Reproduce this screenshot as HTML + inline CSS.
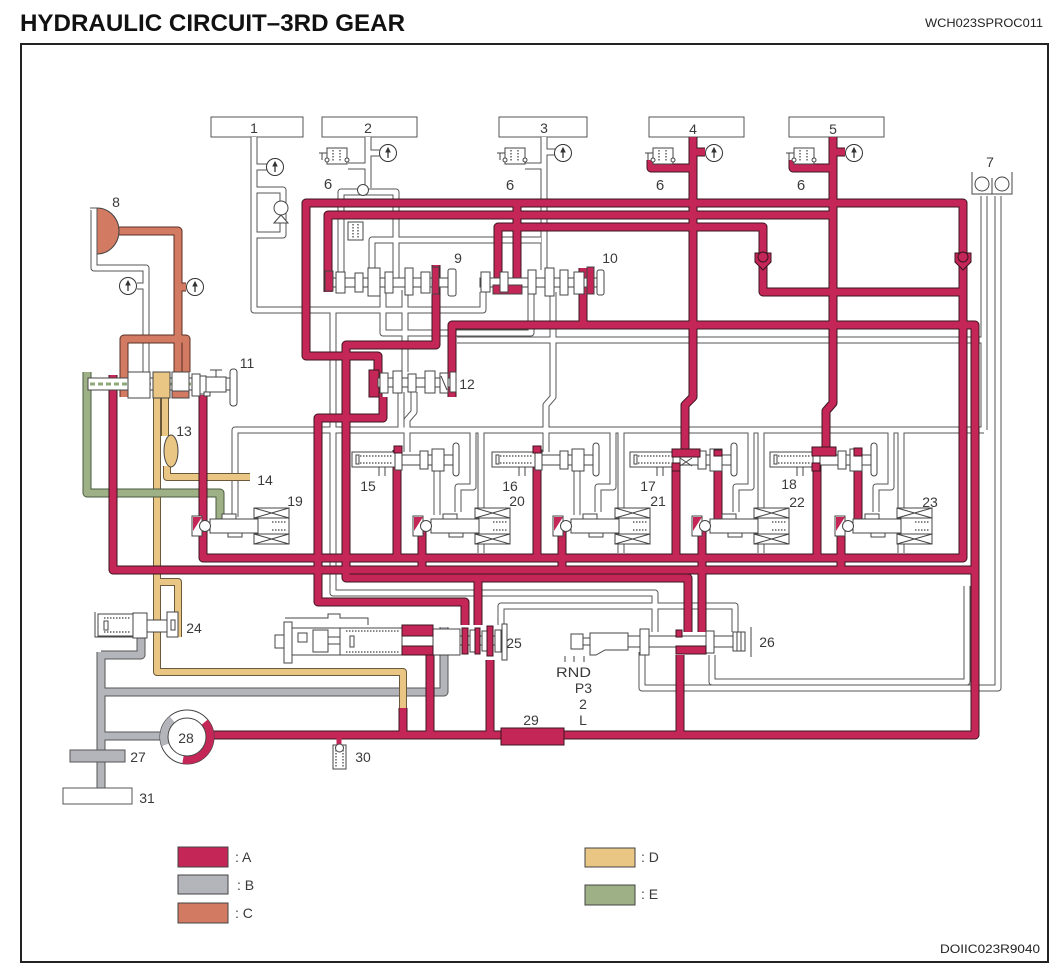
<!DOCTYPE html>
<html><head><meta charset="utf-8">
<style>
html,body{margin:0;padding:0;background:#fff;}
svg{display:block;}
text{font-family:"Liberation Sans",Arial,sans-serif;fill:#3a3a3a;}
</style></head><body>
<svg width="1064" height="978" viewBox="0 0 1064 978" xmlns="http://www.w3.org/2000/svg">
<defs>
<g id="wp" fill="none">
<path d="M254,137 V310 H483 V292"/>
<path d="M333,310 V593 H655 V632"/>
<path d="M254,167 H267"/>
<path d="M256,190 H283 V235 H256"/>
<path d="M368,137 V188"/>
<path d="M341,278 V192 H396 V278"/>
<path d="M348,166 H368"/>
<path d="M368,153 H380"/>
<path d="M544,137 V270"/>
<path d="M525,166 H544"/>
<path d="M544,152 H555"/>
<path d="M372,278 V240 H541"/>
<path d="M383,292 V333 H531 V292"/>
<path d="M984,196 V430"/>
<path d="M984,340 H457"/>
<path d="M998,196 V688 H642 V652"/>
<path d="M967,586 V682 H712 V655"/>
<path d="M553,292 V397 L546,405 V452"/>
<path d="M501,625 V606 H735 V632"/>
<path d="M235,517 V430 H984"/>
<path d="M405,290 V372"/>
<path d="M401,392 V430"/>
<path d="M414,392 V412 L407,420 V452"/>
<path d="M94,210 V268 H146 V372"/>
<path d="M137,286 H146"/>
<path d="M437,467 V515"/>
<path d="M577,467 V515"/>
<path d="M473,432 V487 H458 V512"/>
<path d="M613,432 V487 H598 V512"/>
<path d="M751,432 V487 H736 V512"/>
<path d="M891,432 V487 H876 V512"/>
<path d="M481,432 V553"/>
<path d="M621,432 V553"/>
<path d="M761,432 V553"/>
<path d="M901,432 V553"/>
</g>
<g id="rp" fill="none">
<path d="M378,397 V356 H306 V203 H963 V558 H203 V395"/>
<path d="M328,292 V215 H833"/>
<path d="M833,137 V403 L826,411 V455"/>
<path d="M833,168 H793 V160"/>
<path d="M833,152 H845"/>
<path d="M693,137 V397 L685,405 V455"/>
<path d="M693,168 H651 V160"/>
<path d="M693,152 H705"/>
<path d="M498,292 V227 H763 V292 H963"/>
<path d="M517,203 V292"/>
<path d="M452,397 V325 H975 V735 H213"/>
<path d="M583,268 V325"/>
<path d="M113,375 V570 H975"/>
<path d="M436,265 V345 H346 V578 H688 V632"/>
<path d="M478,578 V625"/>
<path d="M383,397 V418 H318 V602 H465 V625"/>
<path d="M397,450 V558"/>
<path d="M537,450 V558"/>
<path d="M676,455 V558"/>
<path d="M817,455 V558"/>
<path d="M422,522 V570"/>
<path d="M562,522 V570"/>
<path d="M702,522 V632"/>
<path d="M841,522 V570"/>
<path d="M718,452 V523"/>
<path d="M858,452 V523"/>
<path d="M680,655 V735"/>
<path d="M490,660 V735"/>
<path d="M430,650 V735"/>
<path d="M403,708 V735"/>
</g>
<g id="gp" fill="none">
<path d="M101,652 V790"/>
<path d="M101,736 H162"/>
<path d="M101,692 H444 V627"/>
<path d="M101,655 H141 V637"/>
</g>
<g id="yp" fill="none">
<path d="M157,398 V672 H403 V708"/>
<path d="M157,582 H178 V637"/>
<path d="M165,398 V436"/>
<path d="M167,466 V477 H250"/>
</g>
<g id="ep" fill="none"><path d="M87,372 V493 H220 V521"/></g>
<g id="cp" fill="none">
<path d="M97,231 H178 V372"/>
<path d="M124,397 V339 H186 V372"/>
<path d="M178,287 H186"/>
</g>
<g id="sol" stroke="#444" stroke-width="1" fill="#fff">
<rect x="0" y="516" width="10" height="20"/>
<path d="M1,517 H10 L1,531 Z" fill="#c42658" stroke="none"/>
<rect x="18" y="519" width="48" height="14"/>
<rect x="30" y="514" width="14" height="5"/>
<rect x="36" y="533" width="14" height="4"/>
<rect x="62" y="508" width="35" height="10"/>
<path d="M62,508 L97,518 M97,508 L62,518" fill="none"/>
<rect x="62" y="534" width="35" height="10"/>
<path d="M62,534 L97,544 M97,534 L62,544" fill="none"/>
<rect x="66" y="518" width="31" height="16"/>
<line x1="80" y1="522" x2="95" y2="522" stroke="#888" stroke-dasharray="1.5 1.5" stroke-width="2"/>
<line x1="80" y1="530" x2="95" y2="530" stroke="#888" stroke-dasharray="1.5 1.5" stroke-width="2"/>
<circle cx="13" cy="526" r="5.5"/>
</g>
<g id="sv" stroke="#444" stroke-width="1" fill="#fff">
<rect x="0" y="452" width="43" height="15"/>
<line x1="8" y1="456" x2="40" y2="456" stroke="#888" stroke-dasharray="1.5 1.5" stroke-width="2"/>
<line x1="8" y1="463" x2="40" y2="463" stroke="#888" stroke-dasharray="1.5 1.5" stroke-width="2"/>
<rect x="4" y="455" width="3" height="9"/>
<path d="M27,467 V476 M33,467 V476" fill="none"/>
<rect x="43" y="455" width="60" height="10"/>
<rect x="43" y="450" width="7" height="20"/>
<rect x="68" y="451" width="8" height="18"/>
<rect x="80" y="449" width="12" height="22"/>
<rect x="101" y="443" width="6" height="33" rx="3"/>
</g>
<g id="v6" stroke="#444" stroke-width="1" fill="#fff">
<rect x="8" y="148" width="20" height="16"/>
<line x1="14" y1="150" x2="14" y2="162" stroke="#888" stroke-dasharray="1.5 1.5" stroke-width="2"/>
<line x1="21" y1="150" x2="21" y2="162" stroke="#888" stroke-dasharray="1.5 1.5" stroke-width="2"/>
<path d="M0,153 H8 M3,153 V160" fill="none"/>
<circle cx="8" cy="160" r="2"/>
<circle cx="28" cy="160" r="2"/>
</g>
<g id="gauge" stroke="#333" stroke-width="1">
<circle cx="0" cy="0" r="8.5" fill="#fff"/>
<path d="M0,5 V-2" fill="none" stroke-width="1.3"/>
<path d="M-2,-1 L0,-5 L2,-1 Z" fill="#333"/>
</g>
</defs>

<rect width="1064" height="978" fill="#fff"/>
<text x="20" y="31" font-size="24" font-weight="bold" fill="#111" style="fill:#111" textLength="385" lengthAdjust="spacingAndGlyphs">HYDRAULIC CIRCUIT–3RD GEAR</text>
<text x="925" y="27" font-size="12" style="fill:#222" textLength="118" lengthAdjust="spacingAndGlyphs">WCH023SPROC011</text>
<rect x="21" y="44" width="1027" height="918" fill="none" stroke="#222" stroke-width="2"/>
<text x="940" y="953" font-size="12" style="fill:#222" textLength="100" lengthAdjust="spacingAndGlyphs">DOIIC023R9040</text>

<!-- top boxes -->
<g fill="#fff" stroke="#555" stroke-width="1">
<rect x="211" y="117" width="92" height="20"/>
<rect x="322" y="117" width="95" height="20"/>
<rect x="499" y="117" width="88" height="20"/>
<rect x="649" y="117" width="95" height="20"/>
<rect x="789" y="117" width="95" height="20"/>
</g>

<!-- pipes -->
<use href="#wp" stroke="#555" stroke-width="7" stroke-linejoin="round"/>
<use href="#wp" stroke="#fff" stroke-width="5" stroke-linejoin="round"/>
<use href="#gp" stroke="#555" stroke-width="9" stroke-linejoin="round"/>
<use href="#gp" stroke="#b4b5bb" stroke-width="7" stroke-linejoin="round"/>
<use href="#yp" stroke="#6a5a3a" stroke-width="8" stroke-linejoin="round"/>
<use href="#yp" stroke="#e9c684" stroke-width="6" stroke-linejoin="round"/>
<use href="#ep" stroke="#4a5a40" stroke-width="9" stroke-linejoin="round"/>
<use href="#ep" stroke="#9eb086" stroke-width="7" stroke-linejoin="round"/>
<use href="#cp" stroke="#5a3025" stroke-width="9" stroke-linejoin="round"/>
<use href="#cp" stroke="#d37a63" stroke-width="7" stroke-linejoin="round"/>
<use href="#rp" stroke="#3b1520" stroke-width="9" stroke-linejoin="round"/>
<use href="#rp" stroke="#c42658" stroke-width="7" stroke-linejoin="round"/>

<!-- accumulator 8 -->
<path d="M97,208 A22,23 0 0 1 97,254 Z" fill="#d37a63" stroke="#444" stroke-width="1"/>
<path d="M90,208 H97 V254" fill="none" stroke="#555" stroke-width="1"/>

<!-- 13 -->
<ellipse cx="171" cy="451" rx="7" ry="16" fill="#e9c684" stroke="#444" stroke-width="1"/>

<!-- gauges -->
<use href="#gauge" x="275" y="167"/>
<use href="#gauge" x="388" y="153"/>
<use href="#gauge" x="563" y="153"/>
<use href="#gauge" x="714" y="153"/>
<use href="#gauge" x="854" y="153"/>
<use href="#gauge" x="128" y="286"/>
<use href="#gauge" x="195" y="287"/>

<!-- valve 6s -->
<use href="#v6" x="319"/>
<use href="#v6" x="497"/>
<use href="#v6" x="645"/>
<use href="#v6" x="786"/>

<!-- check valves -->
<g stroke="#444" stroke-width="1" fill="#fff">
<circle cx="281" cy="208" r="7"/>
<path d="M274,223 L281,215 L288,223 Z"/>
<circle cx="363" cy="190" r="5.5"/>
</g>
<g stroke="#3b1520" stroke-width="1" fill="#c42658">
<path d="M755,253 H771 V262 L763,270 L755,262 Z"/>
<circle cx="763" cy="257" r="5"/>
<path d="M955,253 H971 V262 L963,270 L955,262 Z"/>
<circle cx="963" cy="257" r="5"/>
</g>

<!-- 7 -->
<g stroke="#444" stroke-width="1" fill="#fff">
<path d="M972,172 V194 H1012 V172" fill="none"/>
<circle cx="982" cy="184" r="7"/>
<circle cx="1002" cy="184" r="7"/>
<path d="M992,178 V194" fill="none"/>
</g>

<!-- valve 9 -->
<g stroke="#444" stroke-width="1" fill="#fff">
<rect x="348" y="222" width="15" height="18"/>
<line x1="353" y1="224" x2="353" y2="238" stroke="#888" stroke-dasharray="1.5 1.5" stroke-width="2"/>
<line x1="358" y1="224" x2="358" y2="238" stroke="#888" stroke-dasharray="1.5 1.5" stroke-width="2"/>
<rect x="325" y="278" width="130" height="9"/>
<rect x="325" y="271" width="8" height="20" fill="#c42658"/>
<rect x="336" y="272" width="9" height="21"/>
<rect x="355" y="273" width="8" height="19"/>
<rect x="368" y="268" width="12" height="28"/>
<rect x="385" y="272" width="8" height="21"/>
<rect x="405" y="268" width="8" height="27"/>
<rect x="421" y="272" width="9" height="21"/>
<rect x="432" y="267" width="7" height="27" fill="#c42658"/>
<rect x="448" y="269" width="8" height="27" rx="2"/>
</g>
<!-- valve 10 -->
<g stroke="#444" stroke-width="1" fill="#fff">
<rect x="480" y="278" width="123" height="9"/>
<rect x="481" y="272" width="9" height="20"/>
<rect x="493" y="285" width="29" height="9" fill="#c42658"/>
<rect x="500" y="272" width="8" height="20"/>
<rect x="528" y="270" width="8" height="24"/>
<rect x="545" y="268" width="9" height="28"/>
<rect x="560" y="270" width="8" height="25"/>
<rect x="574" y="272" width="10" height="22"/>
<rect x="587" y="267" width="7" height="27" fill="#c42658"/>
<rect x="597" y="270" width="7" height="25" rx="2"/>
</g>
<!-- valve 11 -->
<g stroke="#444" stroke-width="1" fill="#fff">
<rect x="88" y="378" width="145" height="12"/>
<line x1="90" y1="384" x2="226" y2="384" stroke="#8fa878" stroke-width="3" stroke-dasharray="5 3"/>
<rect x="128" y="372" width="22" height="26"/>
<rect x="153" y="372" width="17" height="26" fill="#e9c684"/>
<rect x="172" y="372" width="17" height="26"/>
<rect x="172" y="391" width="17" height="7" fill="#d37a63"/>
<rect x="192" y="374" width="8" height="22"/>
<rect x="200" y="376" width="6" height="18"/>
<rect x="206" y="377" width="20" height="15"/>
<path d="M210,370 H222 M216,370 V377" fill="none"/>
<rect x="230" y="369" width="7" height="37" rx="3"/>
<rect x="204" y="392" width="6" height="4"/>
</g>
<!-- valve 12 -->
<rect x="369" y="370" width="10" height="27" fill="#c42658" stroke="#3b1520" stroke-width="1"/>
<g stroke="#444" stroke-width="1" fill="#fff">
<rect x="378" y="378" width="77" height="9"/>
<rect x="380" y="373" width="8" height="20"/>
<rect x="393" y="371" width="9" height="22"/>
<rect x="408" y="374" width="8" height="18"/>
<rect x="425" y="371" width="10" height="22"/>
<rect x="440" y="373" width="8" height="20"/>
<path d="M441,376 L447,390" fill="none"/>
<rect x="450" y="372" width="6" height="20"/>
</g>

<!-- spool valves 15-18 -->
<use href="#sv" x="352"/>
<use href="#sv" x="492"/>
<use href="#sv" x="630"/>
<use href="#sv" x="770"/>
<g fill="#c42658" stroke="#3b1520" stroke-width="1">
<rect x="394" y="446" width="8" height="7"/>
<rect x="533" y="446" width="8" height="7"/>
<rect x="672" y="449" width="28" height="8"/>
<rect x="672" y="463" width="8" height="8"/>
<rect x="812" y="447" width="24" height="9"/>
<rect x="812" y="463" width="8" height="8"/>
<rect x="854" y="448" width="8" height="8"/>
<rect x="714" y="450" width="8" height="6"/>
</g>
<path d="M680,458 L692,466 M692,458 L680,466" stroke="#444" stroke-width="1"/>

<!-- solenoid valves 19-23 -->
<use href="#sol" x="192"/>
<use href="#sol" x="413"/>
<use href="#sol" x="553"/>
<use href="#sol" x="692"/>
<use href="#sol" x="835"/>

<!-- valve 24 -->
<g stroke="#444" stroke-width="1" fill="#fff">
<path d="M95,612 V637 H133" fill="none"/>
<rect x="98" y="614" width="35" height="22"/>
<line x1="104" y1="618" x2="131" y2="618" stroke="#888" stroke-dasharray="1.5 1.5" stroke-width="2"/>
<line x1="104" y1="632" x2="131" y2="632" stroke="#888" stroke-dasharray="1.5 1.5" stroke-width="2"/>
<rect x="104" y="621" width="4" height="9"/>
<rect x="133" y="613" width="14" height="25"/>
<rect x="147" y="620" width="20" height="12"/>
<rect x="167" y="612" width="11" height="25"/>
<rect x="171" y="620" width="4" height="10"/>
</g>

<!-- valve 25 -->
<g stroke="#444" stroke-width="1" fill="#fff">
<path d="M285,618 H328 V614 H340 V618 H368 V625" fill="none"/>
<rect x="275" y="635" width="12" height="13"/>
<rect x="284" y="622" width="8" height="41"/>
<rect x="292" y="628" width="48" height="27"/>
<rect x="298" y="633" width="9" height="9"/>
<path d="M313,630 H328 V652 H313 Z"/>
<rect x="328" y="637" width="15" height="7"/>
<rect x="340" y="628" width="62" height="27"/>
<line x1="346" y1="631" x2="400" y2="631" stroke="#888" stroke-dasharray="1.5 1.5" stroke-width="2"/>
<line x1="346" y1="652" x2="400" y2="652" stroke="#888" stroke-dasharray="1.5 1.5" stroke-width="2"/>
<rect x="350" y="636" width="4" height="11"/>
<rect x="402" y="636" width="31" height="10"/>
<rect x="433" y="629" width="27" height="26"/>
<rect x="460" y="636" width="44" height="9"/>
<rect x="470" y="630" width="5" height="22"/>
<rect x="482" y="631" width="5" height="20"/>
<rect x="495" y="630" width="6" height="22"/>
<rect x="502" y="624" width="5" height="36"/>
</g>
<g fill="#c42658" stroke="#3b1520" stroke-width="1">
<rect x="402" y="625" width="31" height="11"/>
<rect x="402" y="646" width="31" height="9"/>
<rect x="462" y="628" width="6" height="26"/>
<rect x="475" y="628" width="5" height="26"/>
<rect x="487" y="626" width="6" height="30"/>
</g>

<!-- valve 26 -->
<g stroke="#444" stroke-width="1" fill="#fff">
<rect x="571" y="634" width="12" height="15"/>
<rect x="583" y="638" width="7" height="7"/>
<path d="M590,633 H628 V650 H605 L596,655 H590 Z"/>
<rect x="628" y="636" width="115" height="11"/>
<rect x="640" y="629" width="9" height="26"/>
<rect x="706" y="631" width="8" height="22"/>
<rect x="733" y="632" width="12" height="19"/>
<path d="M737,632 V651 M741,632 V651 M751,627 V657" fill="none"/>
<path d="M565,656 V662 M574,656 V662 M584,656 V662" fill="none"/>
</g>
<g fill="#c42658" stroke="#3b1520" stroke-width="1">
<rect x="676" y="630" width="6" height="7"/>
<rect x="676" y="646" width="30" height="8"/>
</g>

<!-- 29, 27, 31, 30 -->
<rect x="501" y="728" width="63" height="17" fill="#c42658" stroke="#3b1520" stroke-width="1"/>
<rect x="70" y="750" width="55" height="12" fill="#b4b5bb" stroke="#555" stroke-width="1"/>
<rect x="63" y="788" width="69" height="16" fill="#fff" stroke="#555" stroke-width="1"/>
<g stroke="#444" stroke-width="1" fill="#fff">
<path d="M339,735 V745" fill="none" stroke="#c42658" stroke-width="5"/>
<rect x="333" y="745" width="13" height="24"/>
<line x1="336" y1="750" x2="336" y2="767" stroke="#888" stroke-dasharray="1.5 1.5" stroke-width="2"/>
<line x1="343" y1="750" x2="343" y2="767" stroke="#888" stroke-dasharray="1.5 1.5" stroke-width="2"/>
<circle cx="339.5" cy="748" r="4"/>
</g>

<!-- pump 28 -->
<circle cx="187" cy="737" r="27" fill="#fff" stroke="#444" stroke-width="1"/>
<path d="M204.6,722.2 A23,23 0 0 1 183,759.6" fill="none" stroke="#c42658" stroke-width="8"/>
<path d="M165.4,744.9 A23,23 0 0 1 172.2,719.4" fill="none" stroke="#b4b5bb" stroke-width="8"/>
<circle cx="187" cy="737" r="19" fill="#fff" stroke="#444" stroke-width="1"/>

<!-- labels -->
<g font-size="14" text-anchor="middle">
<text x="254" y="133">1</text>
<text x="368" y="133">2</text>
<text x="544" y="133">3</text>
<text x="693" y="134">4</text>
<text x="833" y="134">5</text>
<text x="328" y="189" font-size="15">6</text>
<text x="510" y="190" font-size="15">6</text>
<text x="660" y="190" font-size="15">6</text>
<text x="801" y="190" font-size="15">6</text>
<text x="990" y="167">7</text>
<text x="116" y="207">8</text>
<text x="458" y="263">9</text>
<text x="610" y="263">10</text>
<text x="247" y="368">11</text>
<text x="467" y="389">12</text>
<text x="184" y="436">13</text>
<text x="265" y="485">14</text>
<text x="368" y="491">15</text>
<text x="510" y="491">16</text>
<text x="648" y="491">17</text>
<text x="789" y="489">18</text>
<text x="295" y="506">19</text>
<text x="517" y="506">20</text>
<text x="658" y="506">21</text>
<text x="797" y="507">22</text>
<text x="930" y="507">23</text>
<text x="194" y="633">24</text>
<text x="514" y="648">25</text>
<text x="767" y="647">26</text>
<text x="138" y="762">27</text>
<text x="186" y="743">28</text>
<text x="531" y="725">29</text>
<text x="363" y="762">30</text>
<text x="147" y="803">31</text>
<text x="592" y="693" text-anchor="end">P3</text>
<text x="583" y="709">2</text>
<text x="583" y="725">L</text>
</g>
<text x="556" y="677" font-size="14" textLength="35" lengthAdjust="spacingAndGlyphs">RND</text>

<!-- legend -->
<g stroke="#444" stroke-width="1">
<rect x="178" y="847" width="50" height="20" fill="#c42658"/>
<rect x="178" y="875" width="50" height="19" fill="#b4b5bb"/>
<rect x="178" y="903" width="50" height="20" fill="#d37a63"/>
<rect x="585" y="848" width="50" height="19" fill="#e9c684"/>
<rect x="585" y="885" width="50" height="20" fill="#9eb086"/>
</g>
<g font-size="14">
<text x="235" y="862">: A</text>
<text x="237" y="890">: B</text>
<text x="235" y="918">: C</text>
<text x="641" y="862">: D</text>
<text x="641" y="899">: E</text>
</g>
</svg>
</body></html>
